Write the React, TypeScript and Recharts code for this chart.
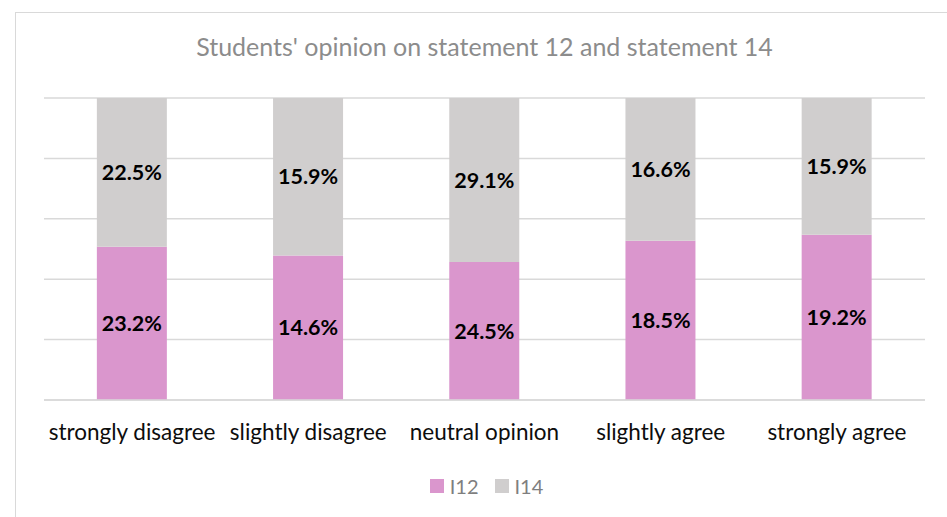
import React from 'react';
import { BarChart, Bar, XAxis, YAxis, CartesianGrid, LabelList } from 'recharts';

const categories = ['strongly disagree', 'slightly disagree', 'neutral opinion', 'slightly agree', 'strongly agree'];
const i12Values = [23.2, 14.6, 24.5, 18.5, 19.2];
const i14Values = [22.5, 15.9, 29.1, 16.6, 15.9];
const seriesNames = ['I12', 'I14'];
const seriesColors = ['#DA96CD', '#D0CECE'];
const title = "Students' opinion on statement 12 and statement 14";

const data = categories.map((c, i) => ({ name: c, I12: i12Values[i], I14: i14Values[i] }));

const FONT = 'Lato, "Open Sans", sans-serif';
const fmt = (v: any) => `${Number(v).toFixed(1)}%`;

export default function App() {
  return (
    <div style={{ position: 'absolute', left: 0, top: 0, width: 947, height: 517, overflow: 'hidden', background: '#fff', fontFamily: FONT }}>
      <div style={{ position: 'absolute', left: 15, top: 12, width: 1000, height: 600, border: '1.5px solid #D9D9D9', boxSizing: 'border-box' }} />
      <div style={{ position: 'absolute', left: 44, width: 881, top: 31, textAlign: 'center', fontSize: 25, color: '#8C8C8C', lineHeight: '30px', whiteSpace: 'nowrap' }}>{title}</div>
      <BarChart
        width={947}
        height={517}
        data={data}
        stackOffset="expand"
        barCategoryGap="30%"
        margin={{ top: 98, right: 22, bottom: 87, left: 44 }}
        style={{ position: 'absolute', left: 0, top: 0 }}
      >
        <CartesianGrid vertical={false} stroke="#D9D9D9" strokeWidth={1.5} />
        <YAxis hide domain={[0, 1]} ticks={[0, 0.2, 0.4, 0.6, 0.8, 1]} />
        <XAxis
          dataKey="name"
          height={30}
          axisLine={{ stroke: '#D9D9D9', strokeWidth: 1.5 }}
          tickLine={false}
          tick={{ fill: '#0D0D0D', fontSize: 22.5, fontFamily: FONT }}
          tickMargin={18}
          interval={0}
        />
        <Bar dataKey="I12" name={seriesNames[0]} stackId="a" fill={seriesColors[0]} isAnimationActive={false}>
          <LabelList dataKey="I12" position="center" formatter={fmt} style={{ fill: '#000', fontSize: 21.5, fontWeight: 700, fontFamily: FONT }} />
        </Bar>
        <Bar dataKey="I14" name={seriesNames[1]} stackId="a" fill={seriesColors[1]} isAnimationActive={false}>
          <LabelList dataKey="I14" position="center" formatter={fmt} style={{ fill: '#000', fontSize: 21.5, fontWeight: 700, fontFamily: FONT }} />
        </Bar>
      </BarChart>
      <div style={{ position: 'absolute', left: 0, width: 947, top: 474, display: 'flex', justifyContent: 'center', paddingLeft: 26, boxSizing: 'border-box', fontSize: 20, color: '#7F7F7F', lineHeight: '24px' }}>
        {seriesNames.map((n, i) => (
          <div key={n} style={{ display: 'flex', alignItems: 'center', marginRight: i === 0 ? 16 : 0 }}>
            <span style={{ display: 'inline-block', width: 14, height: 14, background: seriesColors[i], marginRight: 6 }} />
            <span>{n}</span>
          </div>
        ))}
      </div>
    </div>
  );
}
